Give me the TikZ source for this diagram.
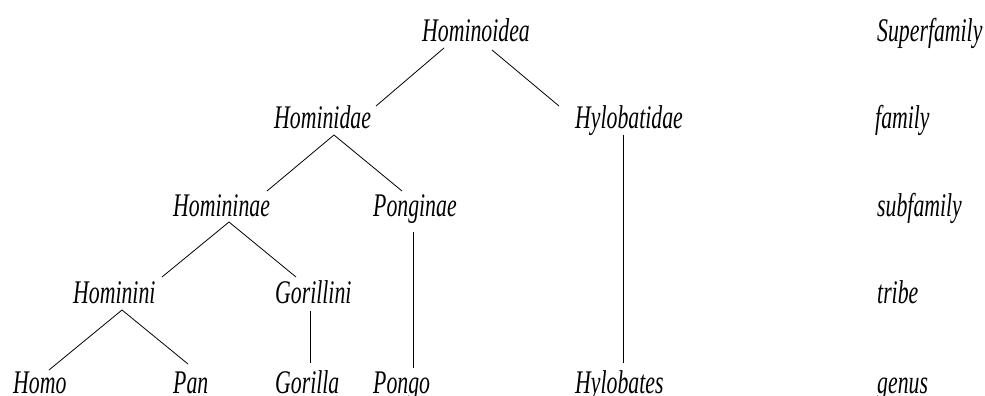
\documentclass[tikz,border=0pt]{standalone}
\usepackage{fontspec}
\setmainfont[FakeStretch=0.66]{Liberation Serif}
\begin{document}
\begin{tikzpicture}[x=1pt,y=1pt,
  taxon/.style={anchor=base west,inner sep=0pt,font=\fontsize{33}{40}\selectfont\itshape},
  link/.style={draw=black,line width=0.8pt}]
\useasboundingbox[fill=white] (0,0) rectangle (985,-396);
% taxa
\node[taxon] (hominoidea) at (422,-42) {Hominoidea};
\node[taxon] (hominidae) at (274,-128) {Hominidae};
\node[taxon] (hylobatidae) at (575,-128) {Hylobatidae};
\node[taxon] (homininae) at (173,-216) {Homininae};
\node[taxon] (ponginae) at (373,-216) {Ponginae};
\node[taxon] (hominini) at (73,-303) {Hominini};
\node[taxon] (gorillini) at (275,-303) {Gorillini};
\node[taxon] (homo) at (13,-393) {Homo};
\node[taxon] (pan) at (173,-393) {Pan};
\node[taxon] (gorilla) at (275,-393) {Gorilla};
\node[taxon] (pongo) at (373,-393) {Pongo};
\node[taxon] (hylobates) at (575,-393) {Hylobates};
% ranks
\node[taxon] (rsuper) at (877,-42) {Superfamily};
\node[taxon] (rfamily) at (875,-128) {family};
\node[taxon] (rsub) at (877,-216) {subfamily};
\node[taxon] (rtribe) at (877,-303) {tribe};
\node[taxon] (rgenus) at (877,-393) {genus};
% connectors
\draw[link] ([shift={(22,-6)}]hominoidea.base west) -- ([shift={(102,22)}]hominidae.base west);
\draw[link] ([shift={(70,-8)}]hominoidea.base west) -- ([shift={(-16,22)}]hylobatidae.base west);
\draw[link] ([shift={(94,25)}]homininae.base west) -- ([shift={(60,-7)}]hominidae.base west) -- ([shift={(29,25)}]ponginae.base west);
\draw[link] ([shift={(48,-7)}]hylobatidae.base west) -- ([shift={(48,30)}]hylobates.base west);
\draw[link] ([shift={(89,26)}]hominini.base west) -- ([shift={(56,-6)}]homininae.base west) -- ([shift={(21,26)}]gorillini.base west);
\draw[link] ([shift={(40,-16)}]ponginae.base west) -- ([shift={(40,25)}]pongo.base west);
\draw[link] ([shift={(36,23)}]homo.base west) -- ([shift={(49,-7)}]hominini.base west) -- ([shift={(15,29)}]pan.base west);
\draw[link] ([shift={(35,-8)}]gorillini.base west) -- ([shift={(35,30)}]gorilla.base west);
\end{tikzpicture}
\end{document}
